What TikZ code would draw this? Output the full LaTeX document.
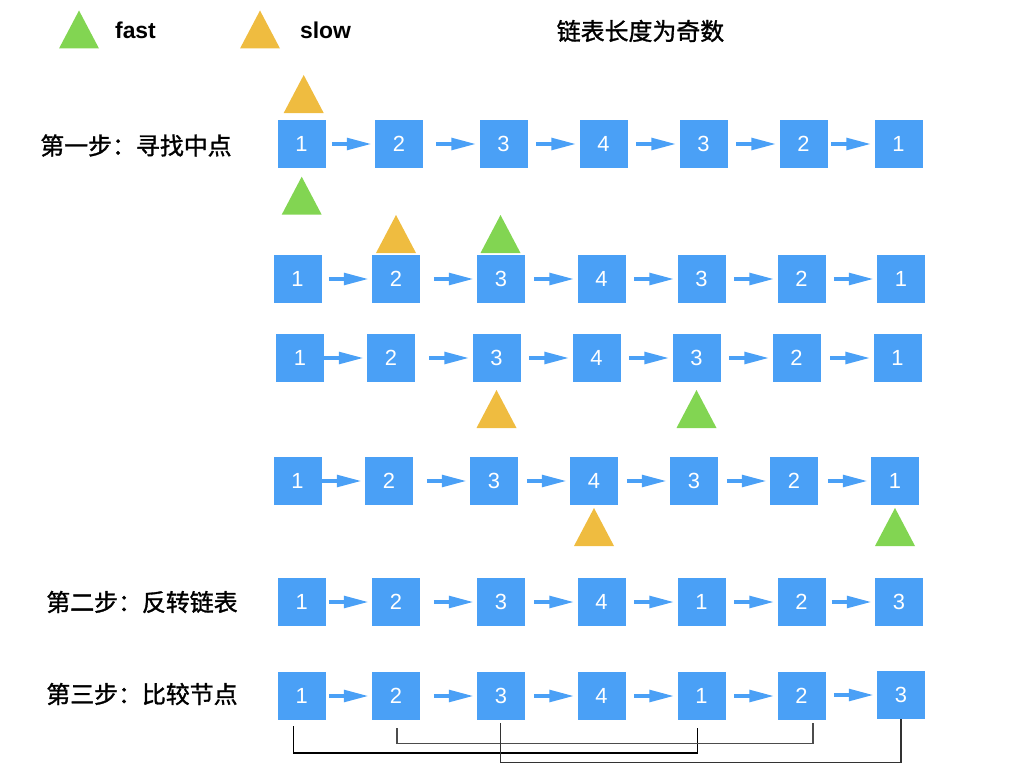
\documentclass[tikz,border=0pt]{standalone}
\usepackage{fontspec}
\usetikzlibrary{arrows.meta}
\newfontfamily\latinsans{Liberation Sans}
\newfontfamily\cjk{Noto Sans CJK SC}[FakeBold=1.3]
\definecolor{boxblue}{RGB}{74,160,246}
\definecolor{fastgreen}{RGB}{130,213,82}
\definecolor{slowyellow}{RGB}{239,188,64}
\tikzset{
  cell/.style={fill=boxblue, text=white, minimum size=48bp, inner sep=0pt, font=\latinsans\fontsize{22}{24}\selectfont},
  link/.style={boxblue, line width=4bp, -{Triangle[length=25bp,width=11.5bp]}},
  steplabel/.style={font=\cjk\fontsize{24}{28}\selectfont},
  legend/.style={font=\latinsans\bfseries\fontsize{23}{26}\selectfont},
  pair/.style={line width=1.1bp}
}
% pointer triangle, centred on #2
\newcommand{\pointer}[2]{\fill[#1] (#2) +(-20,19) -- +(20,19) -- +(0,-19) -- cycle;}
\begin{document}
\begin{tikzpicture}[x=1bp,y=-1bp]
\useasboundingbox (0,0) rectangle (1024,768);

% legend and title
\pointer{fastgreen}{79,29.5}
\node[legend] (fast) at (135.5,30) {fast};
\pointer{slowyellow}{260,29.5}
\node[legend] (slow) at (325.5,30) {slow};
\node[steplabel] (title) at (640.5,31) {链表长度为奇数};

% step labels
\node[steplabel] (find) at (136,145.5) {第一步：寻找中点};
\node[steplabel] (rev) at (142,602) {第二步：反转链表};
\node[steplabel] (cmp) at (142,694) {第三步：比较节点};

% rows of the list
\foreach \x/\v [count=\i] in {301.5/1,399/2,503.5/3,603.5/4,703.5/3,803.5/2,898.5/1}
  \node[cell] (a\i) at (\x,144) {\v};
\foreach \x/\v [count=\i] in {297.5/1,396/2,501/3,601.5/4,701.5/3,801.5/2,901/1}
  \node[cell] (b\i) at (\x,279) {\v};
\foreach \x/\v [count=\i] in {300/1,391/2,496.5/3,596.5/4,696.5/3,796.5/2,897.5/1}
  \node[cell] (c\i) at (\x,358) {\v};
\foreach \x/\v [count=\i] in {297.5/1,389/2,494/3,594/4,694/3,794/2,895/1}
  \node[cell] (d\i) at (\x,481) {\v};
\foreach \x/\v [count=\i] in {301.7/1,396/2,501/3,601.5/4,701.5/1,801.5/2,899/3}
  \node[cell] (e\i) at (\x,602) {\v};
\foreach \x/\v [count=\i] in {301.7/1,396/2,501/3,601.5/4,701.5/1,801.5/2}
  \node[cell] (f\i) at (\x,696) {\v};
\node[cell] (f7) at (901,695) {3};

\foreach \r in {a,b,c,d,e,f}
  \foreach \i in {2,...,7}
    \draw[link] ([xshift=-43]\r\i.west) -- ([xshift=-3]\r\i.west);

% slow and fast pointers
\pointer{slowyellow}{303.7,94}
\pointer{fastgreen}{301.7,195.7}
\pointer{slowyellow}{396,234}
\pointer{fastgreen}{500.5,234}
\pointer{slowyellow}{496.5,409}
\pointer{fastgreen}{696.5,409}
\pointer{slowyellow}{594,527}
\pointer{fastgreen}{895,527}

% compared pairs
\draw[pair, line width=1.4bp] ([xshift=-8,yshift=-6]f1.south) -- ++(0,27) -| ([xshift=-4,yshift=-8]f5.south);
\draw[pair, black!70] ([xshift=1,yshift=-8]f2.south) -- ++(0,15) -| ([xshift=11.5,yshift=-3]f6.south);
\draw[pair, black!80] ([xshift=-0.5,yshift=-3]f3.south) -- ++(0,39) -| (f7.south);

\end{tikzpicture}
\end{document}
